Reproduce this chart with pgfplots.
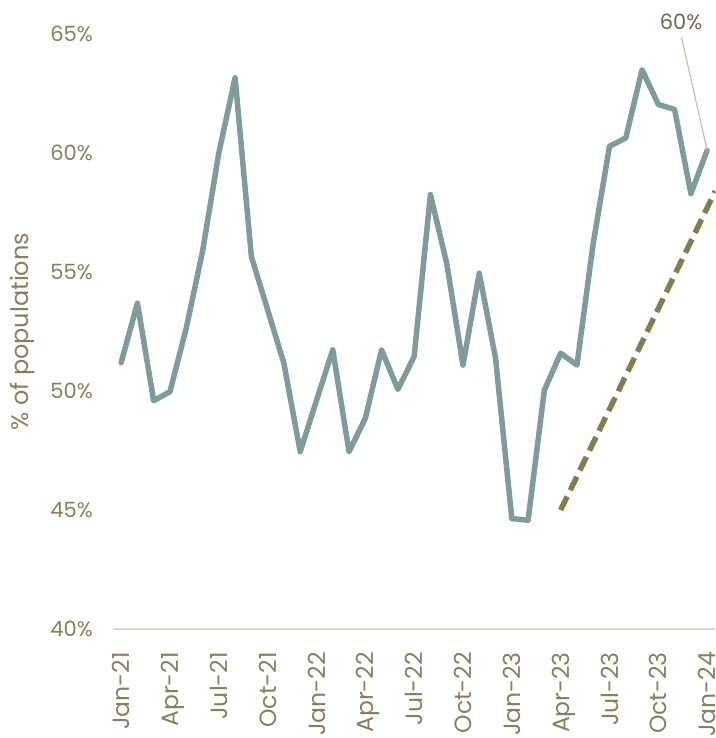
\documentclass[border=0pt]{standalone}
\usepackage{pgfplots}
\pgfplotsset{compat=1.18}
\usepackage{pgfplotstable}
\usepackage{fontspec}
\setmainfont{Poppins}
\definecolor{linecol}{HTML}{7F9C9C}
\definecolor{trendcol}{HTML}{857D50}
\definecolor{tickcol}{HTML}{8A7E5E}
\definecolor{axiscol}{HTML}{DDD8C8}
\definecolor{annotcol}{HTML}{6E6852}
\definecolor{leadercol}{HTML}{C8BEAA}

\pgfplotstableread{
x y
0 51.19
1 53.69
2 49.59
3 49.97
4 52.64
5 55.86
6 60.00
7 63.16
8 55.65
9 53.41
10 51.16
11 47.45
12 49.60
13 51.73
14 47.45
15 48.85
16 51.73
17 50.07
18 51.45
19 58.25
20 55.37
21 51.09
22 54.95
23 51.38
24 44.64
25 44.57
26 50.04
27 51.59
28 51.09
29 56.20
30 60.28
31 60.63
32 63.50
33 62.04
34 61.83
35 58.29
36 60.11
}\shares

\pgfplotstableread{
x y
27 45.0
36.5 58.4
}\trend

\begin{document}
\begin{tikzpicture}
\path[use as bounding box] (-113pt,-109pt) rectangle (602pt,629pt);
\begin{axis}[
  at={(0pt,0pt)}, anchor=south west,
  width=602.3pt, height=595pt, scale only axis,
  xmin=-0.5, xmax=36.5, ymin=40, ymax=65,
  axis x line=bottom, axis y line=left,
  x axis line style={-, draw=axiscol, line width=1.5pt},
  y axis line style={draw=none},
  major tick length=0pt,
  xtick={0,3,...,36},
  xticklabels={Jan-21,Apr-21,Jul-21,Oct-21,Jan-22,Apr-22,Jul-22,Oct-22,Jan-23,Apr-23,Jul-23,Oct-23,Jan-24},
  ytick={40,45,50,55,60,65},
  yticklabels={40\%,45\%,50\%,55\%,60\%,65\%},
  xticklabel style={rotate=90, anchor=east, inner sep=0pt, text depth=0pt,
    font=\fontsize{23.5}{26}\selectfont, text=tickcol},
  xticklabel shift=23pt,
  yticklabel style={anchor=east, inner sep=0pt,
    font=\fontsize{21}{24}\selectfont, text=tickcol},
  yticklabel shift=20pt,
  ylabel={\% of populations},
  every axis y label/.style={at={(axis description cs:0,0.5)}, xshift=-91pt, rotate=90,
    anchor=center, font=\fontsize{24}{27}\selectfont, text=tickcol},
]
\addplot[trendcol, line width=5.5pt, dash pattern=on 15pt off 7pt] table {\trend};
\addplot[linecol, line width=5.5pt, line join=round, line cap=round] table {\shares};
\coordinate (labpos) at (axis cs:34.4,65.5);
\coordinate (leadA) at (axis cs:34.42,64.87);
\coordinate (leadB) at (axis cs:36,60.11);
\end{axis}
\draw[leadercol, line width=1.2pt] (leadA) -- (leadB);
\node[text=annotcol, font=\fontsize{21}{24}\selectfont, inner sep=0pt] at (labpos) {60\%};
\end{tikzpicture}
\end{document}
